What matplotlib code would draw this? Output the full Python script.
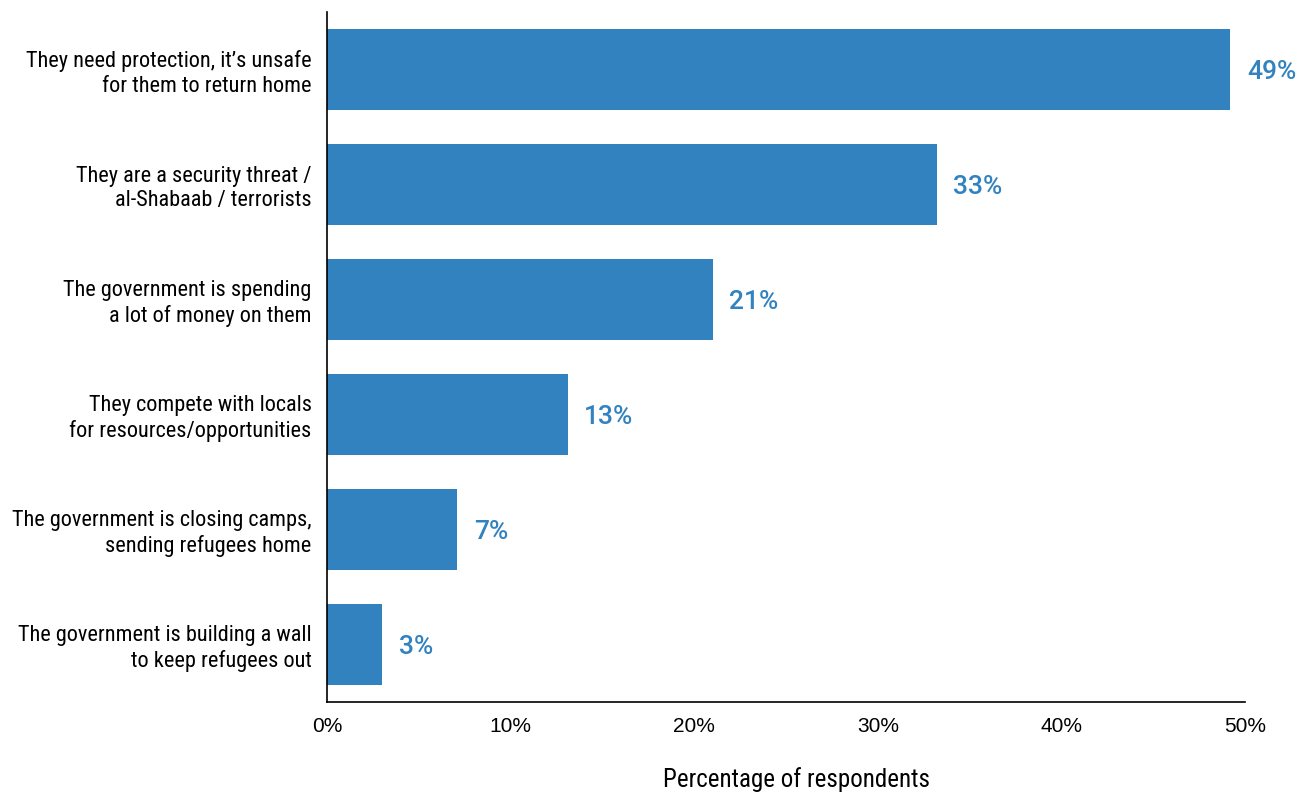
import matplotlib.pyplot as plt
from matplotlib.ticker import FuncFormatter

categories = [
    "They need protection, it\u2019s unsafe\nfor them to return home",
    "They are a security threat /\nal-Shabaab / terrorists",
    "The government is spending\na lot of money on them",
    "They compete with locals\nfor resources/opportunities",
    "The government is closing camps,\nsending refugees home",
    "The government is building a wall\nto keep refugees out",
]
values = [49.2, 33.2, 21.0, 13.1, 7.1, 3.0]
value_labels = ["49%", "33%", "21%", "13%", "7%", "3%"]
xticks = [0, 10, 20, 30, 40, 50]

bar_color = "#3282bf"
cat_font = ["Roboto Condensed", "Liberation Sans Narrow", "Liberation Sans"]
tick_font = ["Liberation Sans", "DejaVu Sans"]

fig = plt.figure(figsize=(13.1, 7.96), dpi=100)
ax = fig.add_axes([0.2496, 0.1181, 0.7008, 0.8669])

pos = list(range(len(categories)))
ax.barh(pos, values, height=0.71, color=bar_color)
ax.set_ylim(len(categories) - 0.5, -0.5)
ax.set_xlim(0, 50)

for p, v, lab in zip(pos, values, value_labels):
    ax.text(v + 0.9, p + 0.02, lab, va="center", ha="left", color=bar_color,
            fontsize=19, fontweight="medium", family=["Roboto", "DejaVu Sans"])

ax.set_yticks(pos)
ax.set_yticklabels(categories, family=cat_font, fontsize=16, linespacing=1.22)
ax.set_xticks(xticks)
ax.xaxis.set_major_formatter(FuncFormatter(lambda x, _: f"{x:.0f}%"))
for t in ax.get_xticklabels():
    t.set_family(tick_font)
    t.set_fontsize(15)
ax.tick_params(axis="both", length=0)
ax.tick_params(axis="y", pad=11)
ax.tick_params(axis="x", pad=11)

ax.spines["top"].set_visible(False)
ax.spines["right"].set_visible(False)
ax.spines["left"].set_linewidth(1.2)
ax.spines["bottom"].set_linewidth(1.2)

ax.set_xlabel("Percentage of respondents", family=cat_font, fontsize=18, labelpad=22)
ax.xaxis.label.set_x(0.511)

plt.savefig("out.png", dpi=100)
